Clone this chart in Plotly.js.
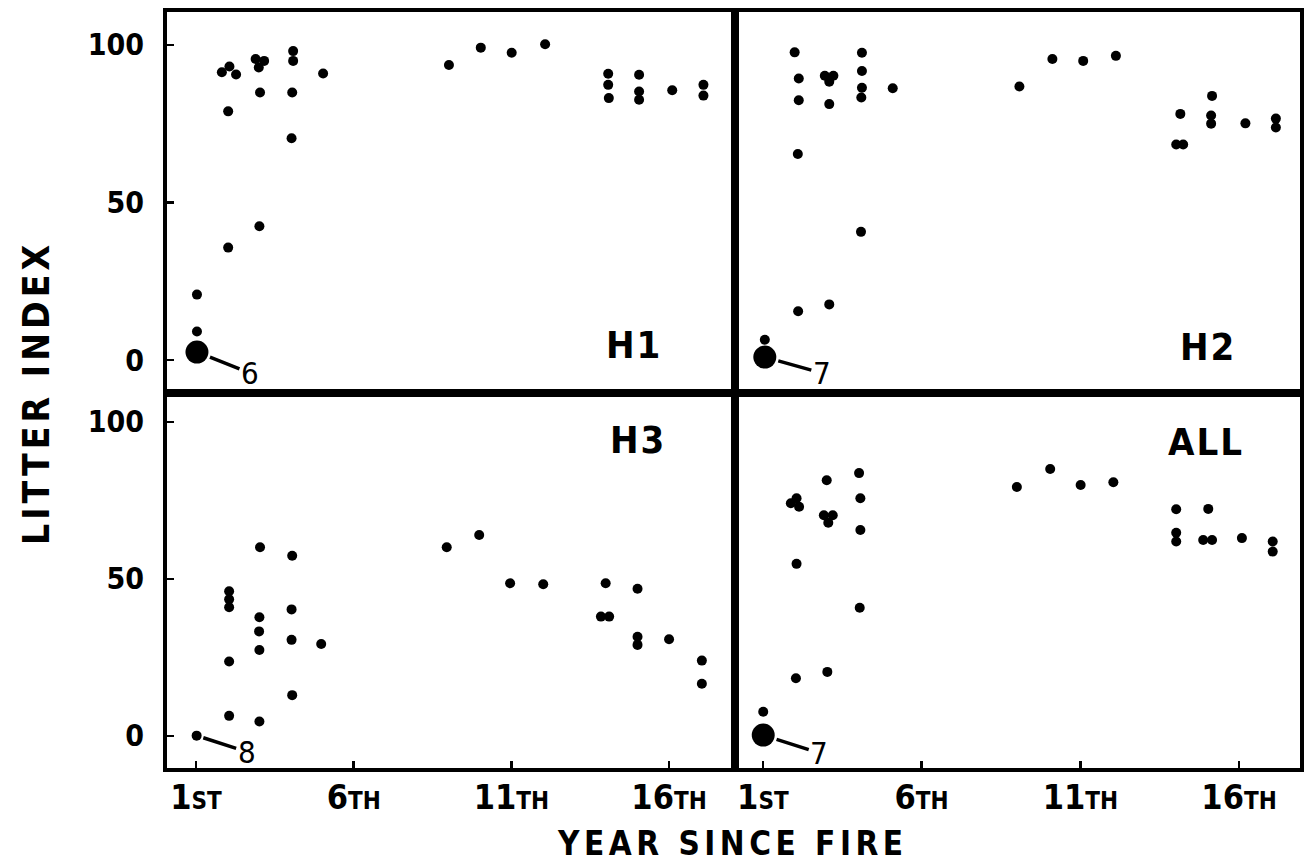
<!DOCTYPE html>
<html><head><meta charset="utf-8">
<script src="https://cdn.plot.ly/plotly-3.0.1.min.js"></script>
<style>html,body{margin:0;padding:0;background:#fff}</style>
</head><body><div id="chart" style="width:1308px;height:866px"></div>
<script>
// ---- data (year since fire, litter index) ----
const h1X = [1.03,1.03,2.02,2.02,1.82,2.06,2.27,3.03,3.01,2.89,3.16,2.99,4.08,4.08,4.05,4.03,5.03,9.02,10.03,11.01,12.07,14.07,14.07,14.09,15.05,15.05,15.05,16.1,17.09,17.09];
const h1Y = [9.1,20.8,35.7,78.9,91.3,93.1,90.6,84.9,42.5,95.5,94.9,92.8,98.0,94.9,84.9,70.4,90.9,93.6,99.1,97.5,100.2,90.8,87.3,83.1,90.5,85.2,82.6,85.6,87.3,83.9];
const h1GroupX = [1.03], h1GroupY = [2.6], h1GroupN = ['6'];

const h2X = [1.06,2.11,3.09,2.10,2.13,2.13,2.0,2.95,3.22,3.09,3.09,4.12,4.12,4.12,4.10,4.09,5.09,9.08,10.12,11.09,12.12,14.15,14.02,14.24,15.15,15.12,15.12,16.2,17.16,17.16];
const h2Y = [6.5,15.5,17.7,65.4,82.4,89.3,97.6,90.2,90.2,88.3,81.2,97.5,91.7,86.4,83.3,40.7,86.2,86.8,95.5,94.9,96.5,78.1,68.4,68.4,83.8,77.6,75.0,75.1,76.6,73.8];
const h2GroupX = [1.06], h2GroupY = [1.0], h2GroupN = ['7'];

const h3X = [2.05,2.05,2.05,2.05,2.05,3.01,3.01,3.0,3.01,3.03,4.05,4.03,4.03,4.05,4.97,8.95,9.98,10.96,12.01,13.99,13.84,14.1,15.0,15.0,15.0,16.0,17.04,17.04];
const h3Y = [6.4,23.7,46.1,43.5,41.0,4.6,27.4,33.3,37.8,60.1,13.0,30.6,40.3,57.4,29.3,60.1,64.0,48.6,48.3,48.6,38.0,38.0,46.9,31.6,29.0,30.8,24.0,16.6];
const h3GroupX = [1.02], h3GroupY = [0.1], h3GroupN = ['8'];

const allX = [1.01,2.04,2.06,1.88,2.06,2.14,3.03,3.01,2.92,3.2,3.06,4.03,4.07,4.07,4.05,9.0,10.05,11.01,12.04,14.02,14.02,14.02,15.03,14.87,15.15,16.09,17.06,17.06];
const allY = [7.7,18.4,54.8,74.1,75.7,73.0,20.4,81.4,70.3,70.3,67.9,83.7,75.7,65.6,40.8,79.3,85.0,79.9,80.8,72.2,64.7,61.9,72.3,62.4,62.4,63.0,61.9,58.7];
const allGroupX = [1.01], allGroupY = [0.3], allGroupN = ['7'];

const panelNames = ['H1','H2','H3','ALL'];
const yearTickVals = [1,6,11,16];
const yearTickLabels = ['1ST','6TH','11TH','16TH'];
const litterTickVals = [0,50,100];
const litterTickLabels = ['0','50','100'];
const xTitle = 'YEAR SINCE FIRE';
const yTitle = 'LITTER INDEX';

// ---- build ----
const COND = 'DejaVu Sans Condensed, DejaVu Sans, sans-serif';
const tickText = yearTickLabels.map(l => {
  const m = l.match(/^(\d+)(\D+)$/);
  return m[1] + '<span style="font-size:24px">' + m[2] + '</span>';
});

const panels = [
  {xs:h1X, ys:h1Y, gx:h1GroupX, gy:h1GroupY, gn:h1GroupN, big:true,  xa:'x',  ya:'y',  ax:53, ay:21},
  {xs:h2X, ys:h2Y, gx:h2GroupX, gy:h2GroupY, gn:h2GroupN, big:true,  xa:'x2', ya:'y2', ax:57, ay:16},
  {xs:h3X, ys:h3Y, gx:h3GroupX, gy:h3GroupY, gn:h3GroupN, big:false, xa:'x3', ya:'y3', ax:50, ay:16},
  {xs:allX,ys:allY,gx:allGroupX,gy:allGroupY,gn:allGroupN,big:true,  xa:'x4', ya:'y4', ax:56, ay:18}
];
const labelPos = [[0.822,0.126],[0.837,0.121],[0.829,0.875],[0.834,0.869]];

const traces = [];
const annotations = [];
panels.forEach((p, i) => {
  traces.push({type:'scatter', mode:'markers', x:p.xs, y:p.ys, xaxis:p.xa, yaxis:p.ya,
    marker:{color:'#000', size:10}, hoverinfo:'x+y', showlegend:false});
  traces.push({type:'scatter', mode:'markers', x:p.gx, y:p.gy, xaxis:p.xa, yaxis:p.ya,
    marker:{color:'#000', size:p.big ? 23 : 10}, hoverinfo:'x+y', showlegend:false});
  p.gn.forEach((n, k) => {
    annotations.push({x:p.gx[k], y:p.gy[k], xref:p.xa, yref:p.ya, text:n,
      showarrow:true, arrowhead:0, arrowwidth:3.5, arrowcolor:'#000',
      ax:p.ax, ay:p.ay, standoff:p.big ? 14 : 7,
      font:{family:COND, size:31, color:'#000'}});
  });
  annotations.push({xref:p.xa + ' domain', yref:p.ya + ' domain', x:labelPos[i][0], y:labelPos[i][1],
    xanchor:'center', yanchor:'middle', showarrow:false,
    text:'<span style="letter-spacing:2px">' + panelNames[i] + '</span>',
    font:{family:COND, size:38, color:'#000', weight:'bold'}});
});
annotations.push({xref:'paper', yref:'paper', x:0.4987, y:-0.1283, xanchor:'center', yanchor:'bottom',
  showarrow:false, text:'<span style="letter-spacing:4.5px">' + xTitle + '</span>',
  font:{family:COND, size:33, color:'#000', weight:'bold'}});
annotations.push({xref:'paper', yref:'paper', x:-0.1156, y:0.496, xanchor:'center', yanchor:'middle',
  showarrow:false, textangle:-90, text:'<span style="letter-spacing:4px">' + yTitle + '</span>',
  font:{family:COND, size:37, color:'#000', weight:'bold'}});

const lineW = 4;
function xax(domain, range, bottom) {
  return {domain:domain, range:range, showgrid:false, zeroline:false, showline:true, mirror:true,
    linecolor:'#000', linewidth:lineW,
    tickvals: bottom ? yearTickVals : [], ticktext: bottom ? tickText : [],
    ticks: bottom ? 'inside' : '', ticklen:7, tickwidth:2.5, tickcolor:'#000',
    showticklabels: bottom, ticklabelstandoff:-4,
    tickfont:{family:COND, size:34, color:'#000', weight:'bold'}};
}
function yax(domain, range, left, anchor) {
  return {domain:domain, range:range, anchor:anchor, showgrid:false, zeroline:false, showline:true, mirror:true,
    linecolor:'#000', linewidth:lineW,
    tickvals: left ? litterTickVals : [], ticktext: left ? litterTickLabels : [],
    ticks: left ? 'inside' : '', ticklen:7, tickwidth:2.5, tickcolor:'#000',
    showticklabels: left, ticklabelstandoff:13,
    tickfont:{family:COND, size:30, color:'#000', weight:'bold'}};
}
const split = 0.5013, ySplit = 0.496;
const layout = {
  width:1308, height:866, paper_bgcolor:'#fff', plot_bgcolor:'#fff',
  margin:{l:167, r:8, t:12, b:98},
  showlegend:false,
  xaxis:  Object.assign(xax([0,split],[0.08,18.09],false), {anchor:'y'}),
  xaxis2: Object.assign(xax([split,1],[0.12,17.92],false), {anchor:'y2'}),
  xaxis3: Object.assign(xax([0,split],[0.08,18.09],true), {anchor:'y3'}),
  xaxis4: Object.assign(xax([split,1],[0.12,17.92],true), {anchor:'y4'}),
  yaxis:  yax([ySplit,1],[-10.4,110.4],true,'x'),
  yaxis2: yax([ySplit,1],[-10.4,110.4],false,'x2'),
  yaxis3: yax([0,ySplit],[-10.2,109.2],true,'x3'),
  yaxis4: yax([0,ySplit],[-10.2,109.2],false,'x4'),
  annotations: annotations
};
Plotly.newPlot('chart', traces, layout, {staticPlot:true, displayModeBar:false});
</script></body></html>
